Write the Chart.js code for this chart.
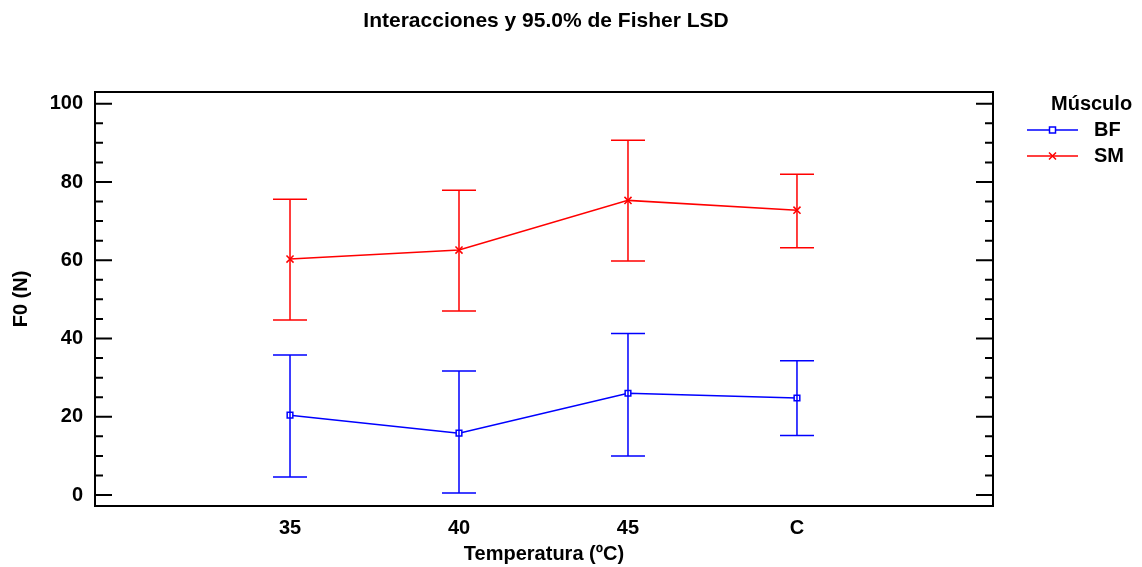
<!DOCTYPE html>
<html>
<head>
<meta charset="utf-8">
<script src="https://cdn.jsdelivr.net/npm/chart.js@4/dist/chart.umd.min.js"></script>
<style>
  html, body { margin: 0; padding: 0; background: #fff; }
  #wrap { width: 1142px; height: 567px; }
</style>
</head>
<body>
<div id="wrap"><canvas id="chart" width="1142" height="567"></canvas></div>
<script>
// données
const categories = ['35', '40', '45', 'C'];
const yTicks = [0, 20, 40, 60, 80, 100];

const bfMean  = [20.4, 15.8, 26.0, 24.8];
const bfLower = [4.6, 0.5, 10.0, 15.2];
const bfUpper = [35.8, 31.7, 41.3, 34.3];

const smMean  = [60.3, 62.6, 75.3, 72.8];
const smLower = [44.7, 47.0, 59.8, 63.2];
const smUpper = [75.6, 77.9, 90.7, 82.0];

const FONT = 'Liberation Sans, Arial, sans-serif';

const toPoints = (vals) => vals.map((v, i) => ({ x: i, y: v }));

// barres d'erreur, cadre, graduations internes, titre et légende
const extras = {
  id: 'extras',
  afterDatasetsDraw(chart) {
    const { ctx, scales: { x, y } } = chart;
    chart.data.datasets.forEach(ds => {
      ctx.save();
      ctx.strokeStyle = ds.borderColor;
      ctx.lineWidth = 1.5;
      ds.lower.forEach((lo, i) => {
        const px = x.getPixelForValue(i);
        const yl = y.getPixelForValue(lo);
        const yu = y.getPixelForValue(ds.upper[i]);
        ctx.beginPath();
        ctx.moveTo(px, yl); ctx.lineTo(px, yu);
        ctx.moveTo(px - 17, yl); ctx.lineTo(px + 17, yl);
        ctx.moveTo(px - 17, yu); ctx.lineTo(px + 17, yu);
        ctx.stroke();
      });
      ctx.restore();
    });
  },
  afterDraw(chart) {
    const { ctx, chartArea: a, scales: { y } } = chart;
    ctx.save();
    // cadre
    ctx.strokeStyle = '#000';
    ctx.lineWidth = 2;
    ctx.strokeRect(a.left, a.top, a.right - a.left, a.bottom - a.top);
    // graduations vers l'intérieur
    ctx.beginPath();
    for (let v = 0; v <= 100; v += 5) {
      const py = y.getPixelForValue(v);
      const len = v % 20 === 0 ? 17 : 8;
      ctx.moveTo(a.left, py); ctx.lineTo(a.left + len, py);
      ctx.moveTo(a.right, py); ctx.lineTo(a.right - len, py);
    }
    ctx.stroke();

    // titre
    ctx.fillStyle = '#000';
    ctx.font = 'bold 21px ' + FONT;
    ctx.textAlign = 'center';
    ctx.textBaseline = 'middle';
    ctx.fillText('Interacciones y 95.0% de Fisher LSD', (a.left + a.right) / 2 + 2, 21);

    // légende
    ctx.font = 'bold 20px ' + FONT;
    ctx.textAlign = 'left';
    ctx.fillText('Músculo', 1051, 104);
    const rows = [
      { label: 'BF', color: '#0000ff', style: 'rect', y: 130 },
      { label: 'SM', color: '#ff0000', style: 'cross', y: 156 }
    ];
    rows.forEach(r => {
      ctx.strokeStyle = r.color;
      ctx.lineWidth = 1.5;
      ctx.beginPath();
      ctx.moveTo(1027, r.y); ctx.lineTo(1078, r.y);
      ctx.stroke();
      if (r.style === 'rect') {
        ctx.fillStyle = '#fff';
        ctx.fillRect(1049.5, r.y - 3, 6, 6);
        ctx.strokeRect(1049.5, r.y - 3, 6, 6);
      } else {
        ctx.beginPath();
        ctx.moveTo(1049, r.y - 3.5); ctx.lineTo(1056, r.y + 3.5);
        ctx.moveTo(1056, r.y - 3.5); ctx.lineTo(1049, r.y + 3.5);
        ctx.stroke();
      }
      ctx.fillStyle = '#000';
      ctx.fillText(r.label, 1094, r.y);
    });
    ctx.restore();
  }
};

new Chart(document.getElementById('chart'), {
  type: 'line',
  data: {
    datasets: [
      {
        label: 'BF',
        data: toPoints(bfMean),
        lower: bfLower,
        upper: bfUpper,
        borderColor: '#0000ff',
        backgroundColor: 'rgba(0,0,0,0)',
        borderWidth: 1.5,
        pointStyle: 'rect',
        pointRadius: 4,
        pointBorderWidth: 1.5,
        pointBorderColor: '#0000ff',
        pointBackgroundColor: '#ffffff',
        tension: 0
      },
      {
        label: 'SM',
        data: toPoints(smMean),
        lower: smLower,
        upper: smUpper,
        borderColor: '#ff0000',
        backgroundColor: 'rgba(0,0,0,0)',
        borderWidth: 1.5,
        pointStyle: 'crossRot',
        pointRadius: 5,
        pointBorderWidth: 1.5,
        pointBorderColor: '#ff0000',
        tension: 0
      }
    ]
  },
  options: {
    responsive: false,
    animation: false,
    layout: { padding: { top: 92, right: 149, left: 0, bottom: 0 } },
    plugins: {
      legend: { display: false },
      title: { display: false },
      tooltip: { enabled: false }
    },
    scales: {
      x: {
        type: 'linear',
        min: -1.154,
        max: 4.16,
        afterFit: (s) => { s.height = 61; },
        afterBuildTicks: (s) => { s.ticks = categories.map((c, i) => ({ value: i })); },
        ticks: {
          autoSkip: false,
          maxRotation: 0,
          padding: 10,
          color: '#000',
          font: { family: FONT, size: 20, weight: 'bold' },
          callback: (v) => categories[v]
        },
        grid: { display: false, drawTicks: false },
        border: { display: false },
        title: {
          display: true,
          text: 'Temperatura (ºC)',
          color: '#000',
          font: { family: FONT, size: 20, weight: 'bold' },
          padding: { top: 0, bottom: 1 }
        }
      },
      y: {
        min: -2.81,
        max: 103,
        afterFit: (s) => { s.width = 95; },
        afterBuildTicks: (s) => { s.ticks = yTicks.map(v => ({ value: v })); },
        ticks: {
          padding: 12,
          color: '#000',
          font: { family: FONT, size: 20, weight: 'bold' }
        },
        grid: { display: false, drawTicks: false },
        border: { display: false },
        title: {
          display: true,
          text: 'F0 (N)',
          color: '#000',
          font: { family: FONT, size: 20, weight: 'bold' },
          padding: { top: 9, bottom: 0 }
        }
      }
    }
  },
  plugins: [extras]
});
</script>
</body>
</html>
